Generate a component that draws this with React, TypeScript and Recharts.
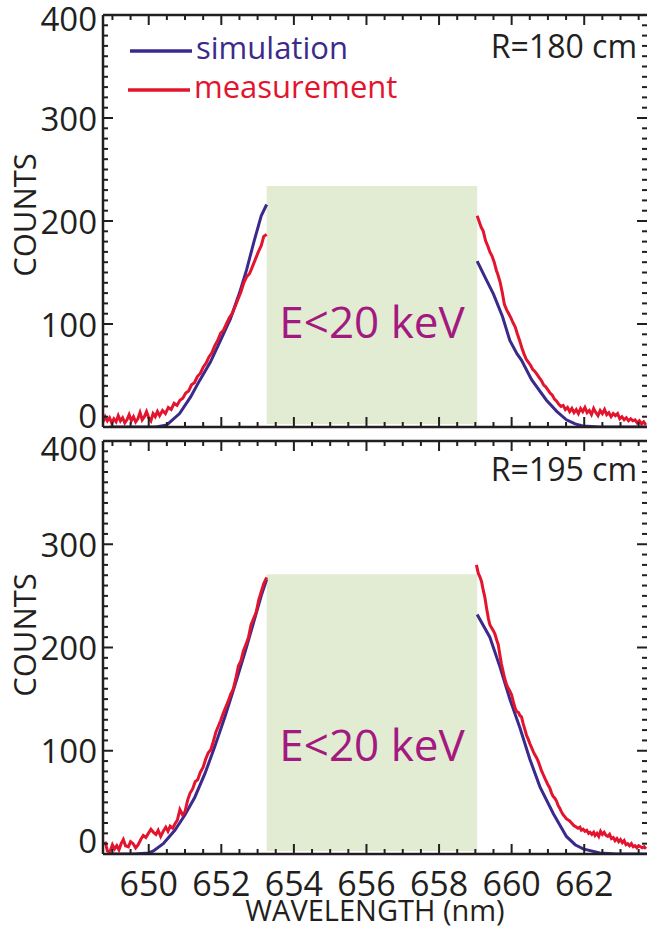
import React from 'react'
import { LineChart, Line, XAxis, YAxis, ReferenceArea } from 'recharts'

const INK = '#231f20'
const SIM = '#3b2a8c'
const MEAS = '#e3152e'
const BAND = '#e1ecd3'
const BAND_TEXT = '#a3197f'
const FONT = '"Open Sans", "Noto Sans", sans-serif'

const X_DOMAIN: [number, number] = [648.74, 663.73]
const Y_DOMAIN: [number, number] = [0, 400]

// [wavelength nm, counts]. The green band hides the line cores,
// so each curve is kept as a left and a right wing.
const topSimLeft = [
  [648.92, 0], [649.5, 0], [650.2, 0], [650.5, 2], [650.85, 13], [651.15, 29], [651.4, 45],
  [651.7, 63], [651.95, 82], [652.25, 105], [652.5, 130], [652.7, 153], [652.9, 180],
  [653.1, 205], [653.25, 216],
]
const topSimRight = [
  [659.05, 161], [659.3, 143], [659.5, 129], [659.75, 107], [659.95, 84], [660.15, 71],
  [660.27, 65], [660.55, 46], [660.96, 26], [661.25, 15], [661.51, 7], [661.75, 3],
  [661.96, 1], [662.43, 0], [663.73, 0],
]
const topMeasLeft = [
  [648.74, 5], [648.8, 10], [648.86, 6], [648.92, 9], [648.98, 4], [649.04, 8], [649.1, 5],
  [649.16, 11], [649.22, 6], [649.28, 9], [649.34, 4], [649.4, 7], [649.46, 12], [649.52, 6],
  [649.58, 10], [649.64, 5], [649.7, 8], [649.76, 14], [649.82, 7], [649.88, 10], [649.94, 15],
  [650.0, 9], [650.06, 6], [650.12, 13], [650.18, 10], [650.24, 15], [650.3, 11], [650.38, 16],
  [650.46, 13], [650.54, 19], [650.62, 17], [650.7, 23], [650.78, 21], [650.86, 26],
  [650.94, 28], [651.02, 33], [651.1, 35], [651.18, 41], [651.26, 43], [651.34, 49],
  [651.42, 52], [651.5, 58], [651.58, 62], [651.66, 68], [651.74, 72], [651.82, 79],
  [651.9, 84], [651.98, 91], [652.06, 94], [652.14, 100], [652.22, 106], [652.3, 110],
  [652.38, 117], [652.46, 124], [652.54, 131], [652.62, 140], [652.7, 146], [652.78, 149],
  [652.86, 156], [652.94, 163], [653.02, 170], [653.1, 176], [653.17, 185], [653.25, 187],
]
const topMeasRight = [
  [659.05, 205], [659.1, 200], [659.16, 194], [659.22, 190], [659.28, 181], [659.34, 176],
  [659.4, 170], [659.46, 166], [659.52, 160], [659.58, 152], [659.62, 148], [659.68, 141],
  [659.74, 131], [659.8, 119], [659.86, 114], [659.92, 110], [659.98, 106], [660.04, 101],
  [660.1, 97], [660.16, 90], [660.22, 84], [660.28, 77], [660.34, 71], [660.4, 66],
  [660.46, 63], [660.52, 60], [660.58, 56], [660.64, 54], [660.7, 51], [660.76, 48],
  [660.82, 45], [660.88, 41], [660.94, 39], [661.0, 36], [661.06, 33], [661.12, 31],
  [661.18, 27], [661.24, 25], [661.3, 22], [661.36, 20], [661.42, 21], [661.48, 17],
  [661.54, 19], [661.6, 15], [661.66, 18], [661.72, 14], [661.78, 17], [661.84, 13],
  [661.9, 18], [661.96, 15], [662.02, 19], [662.08, 14], [662.14, 16], [662.2, 12],
  [662.26, 18], [662.32, 14], [662.38, 11], [662.44, 16], [662.5, 13], [662.56, 17],
  [662.62, 12], [662.68, 14], [662.74, 10], [662.8, 13], [662.86, 11], [662.92, 13],
  [662.98, 8], [663.04, 10], [663.1, 7], [663.16, 9], [663.22, 6], [663.28, 8], [663.34, 6],
  [663.4, 7], [663.46, 4], [663.52, 6], [663.58, 3], [663.64, 5], [663.7, 2],
]

const botSimLeft = [
  [648.85, 0], [649.6, 0], [650.0, 1], [650.13, 3], [650.4, 10], [650.72, 23], [651.0, 38],
  [651.27, 55], [651.55, 78], [651.82, 104], [652.1, 133], [652.37, 163], [652.65, 195],
  [652.92, 228], [653.1, 250], [653.25, 266],
]
const botSimRight = [
  [659.05, 232], [659.4, 210], [659.68, 181], [659.95, 150], [660.23, 122], [660.5, 92],
  [660.78, 65], [661.15, 39], [661.51, 17], [661.75, 9], [661.97, 5], [662.43, 1],
  [662.89, 0], [663.73, 0],
]
const botMeasLeft = [
  [648.8, 12], [648.86, 3], [648.93, 2], [649.0, 9], [649.06, 5], [649.12, 8], [649.18, 4],
  [649.24, 10], [649.3, 14], [649.36, 8], [649.44, 7], [649.5, 12], [649.57, 10], [649.64, 6],
  [649.71, 9], [649.78, 14], [649.85, 18], [649.92, 16], [649.99, 20], [650.06, 24],
  [650.13, 21], [650.2, 19], [650.26, 23], [650.33, 17], [650.4, 22], [650.47, 26],
  [650.53, 22], [650.59, 27], [650.66, 25], [650.72, 29], [650.79, 33], [650.86, 43],
  [650.93, 38], [651.0, 41], [651.07, 52], [651.14, 59], [651.21, 63], [651.28, 70],
  [651.35, 72], [651.42, 79], [651.5, 84], [651.57, 92], [651.64, 98], [651.71, 101],
  [651.78, 109], [651.85, 118], [651.92, 124], [651.98, 129], [652.05, 136], [652.12, 142],
  [652.19, 148], [652.26, 155], [652.33, 160], [652.4, 170], [652.47, 182], [652.54, 187],
  [652.61, 197], [652.68, 203], [652.75, 210], [652.82, 222], [652.89, 228], [652.96, 234],
  [653.03, 246], [653.1, 254], [653.17, 262], [653.25, 268],
]
const botMeasRight = [
  [659.03, 280], [659.08, 272], [659.13, 268], [659.17, 264], [659.22, 255], [659.26, 249],
  [659.31, 238], [659.36, 228], [659.4, 222], [659.45, 219], [659.5, 216], [659.54, 213],
  [659.59, 207], [659.63, 203], [659.68, 192], [659.72, 184], [659.77, 176], [659.81, 170],
  [659.86, 164], [659.9, 161], [659.95, 158], [660.0, 154], [660.05, 147], [660.1, 141],
  [660.14, 138], [660.19, 137], [660.23, 134], [660.27, 133], [660.32, 126], [660.37, 120],
  [660.41, 115], [660.46, 111], [660.5, 107], [660.55, 103], [660.6, 99], [660.64, 96],
  [660.69, 93], [660.73, 90], [660.78, 85], [660.82, 81], [660.87, 77], [660.92, 73],
  [660.96, 70], [661.0, 67], [661.05, 64], [661.1, 59], [661.14, 56], [661.19, 54],
  [661.24, 51], [661.28, 47], [661.33, 44], [661.37, 41], [661.42, 38], [661.47, 36],
  [661.51, 34], [661.56, 33], [661.6, 32], [661.65, 30], [661.7, 28], [661.74, 27],
  [661.79, 26], [661.83, 25], [661.88, 26], [661.92, 23], [661.97, 24], [662.02, 22],
  [662.07, 23], [662.12, 20], [662.16, 21], [662.21, 19], [662.26, 21], [662.3, 18],
  [662.35, 20], [662.4, 17], [662.45, 22], [662.5, 19], [662.55, 21], [662.6, 18],
  [662.65, 17], [662.7, 19], [662.75, 15], [662.8, 16], [662.85, 13], [662.9, 15],
  [662.95, 12], [663.0, 14], [663.05, 11], [663.1, 13], [663.15, 9], [663.2, 10],
  [663.25, 8], [663.3, 10], [663.35, 7], [663.4, 8], [663.45, 6], [663.5, 8], [663.55, 7],
  [663.6, 6], [663.65, 7], [663.7, 5],
]

// low-energy band (E<20 keV) edges in nm, and its top in counts per panel
const bandWave = [653.25, 659.05]
const bandTop = { top: 234, bottom: 271 }

const xLabelTicks = [650, 652, 654, 656, 658, 660, 662]
const yLabelTicks = [0, 100, 200, 300, 400]
const xMinorTicks = Array.from({ length: 30 }, (_, i) => 649 + i * 0.5)
const yMinorTicks = Array.from({ length: 41 }, (_, i) => i * 10)

type Pt = { w: number; v: number | null }

function wings(left: number[][], right: number[][]): Pt[] {
  const gap = (left[left.length - 1][0] + right[0][0]) / 2
  return [
    ...left.map(([w, v]) => ({ w, v })),
    { w: gap, v: null },
    ...right.map(([w, v]) => ({ w, v })),
  ]
}

function XTick(props: any) {
  const { x, y, payload, dir, showLabel } = props
  const v = payload.value
  const major = xLabelTicks.includes(v)
  const len = major ? 10 : 5
  return (
    <g>
      <line x1={x} x2={x} y1={y} y2={y + dir * len} stroke={INK} strokeWidth={2} />
      {showLabel && major && (
        <text x={x} y={y + 42} textAnchor="middle" fontFamily={FONT} fontSize={34} fill={INK}>
          {v}
        </text>
      )}
    </g>
  )
}

function YTick(props: any) {
  const { x, y, payload, dir, showLabel, shift } = props
  const v = payload.value
  const major = yLabelTicks.includes(v)
  const len = major ? 10 : 5
  return (
    <g>
      <line x1={x} x2={x + dir * len} y1={y} y2={y} stroke={INK} strokeWidth={2} />
      {showLabel && major && (
        <text
          x={x - 6}
          y={y + (shift[v] ?? 0)}
          textAnchor="end"
          dominantBaseline="central"
          fontFamily={FONT}
          fontSize={33}
          fill={INK}
        >
          {v}
        </text>
      )}
    </g>
  )
}

interface PanelProps {
  height: number
  margin: { top: number; right: number; bottom: number; left: number }
  sim: Pt[]
  meas: Pt[]
  band: number
  xLabels: boolean
  yShift: Record<number, number>
}

// axes get 1px of room: recharts skips drawing an axis whose box is 0 wide/high
function Panel({ height, margin, sim, meas, band, xLabels, yShift }: PanelProps) {
  const frame = { stroke: INK, strokeWidth: 2.5 }
  return (
    <LineChart width={647} height={height} margin={margin}>
      <XAxis
        xAxisId="b" dataKey="w" type="number" domain={X_DOMAIN} allowDataOverflow
        ticks={xMinorTicks} interval={0} height={1} tickSize={0} tickMargin={0}
        tickLine={false} axisLine={frame}
        tick={(p: any) => <XTick {...p} dir={-1} showLabel={xLabels} />}
      />
      <XAxis
        xAxisId="t" orientation="top" dataKey="w" type="number" domain={X_DOMAIN} allowDataOverflow
        ticks={xMinorTicks} interval={0} height={1} tickSize={0} tickMargin={0}
        tickLine={false} axisLine={frame}
        tick={(p: any) => <XTick {...p} dir={1} showLabel={false} />}
      />
      <YAxis
        yAxisId="l" type="number" domain={Y_DOMAIN} allowDataOverflow
        ticks={yMinorTicks} interval={0} width={1} tickSize={0} tickMargin={0}
        tickLine={false} axisLine={frame}
        tick={(p: any) => <YTick {...p} dir={1} showLabel shift={yShift} />}
      />
      <YAxis
        yAxisId="r" orientation="right" type="number" domain={Y_DOMAIN} allowDataOverflow
        ticks={yMinorTicks} interval={0} width={1} tickSize={0} tickMargin={0}
        tickLine={false} axisLine={false}
        tick={(p: any) => <YTick {...p} dir={-1} showLabel={false} shift={yShift} />}
      />
      <Line
        xAxisId="b" yAxisId="l" data={sim} dataKey="v" type="linear" stroke={SIM}
        strokeWidth={3} dot={false} activeDot={false} isAnimationActive={false}
      />
      <Line
        xAxisId="b" yAxisId="l" data={meas} dataKey="v" type="linear" stroke={MEAS}
        strokeWidth={3} dot={false} activeDot={false} isAnimationActive={false}
      />
      <ReferenceArea
        xAxisId="b" yAxisId="l" x1={bandWave[0]} x2={bandWave[1]} y1={3} y2={band}
        fill={BAND} fillOpacity={1} stroke="none"
      />
    </LineChart>
  )
}

export default function App() {
  const txt = { fontFamily: FONT, fill: INK }
  return (
    <div style={{ position: 'absolute', left: 0, top: 0, width: 647, height: 928, background: '#fff' }}>
      <div style={{ position: 'absolute', left: 0, top: 0 }}>
        <Panel
          height={440}
          margin={{ top: 14, right: -1, bottom: 12, left: 102 }}
          sim={wings(topSimLeft, topSimRight)}
          meas={wings(topMeasLeft, topMeasRight)}
          band={bandTop.top}
          xLabels={false}
          yShift={{ 0: -12, 400: 3 }}
        />
      </div>
      <div style={{ position: 'absolute', left: 0, top: 400 }}>
        <Panel
          height={528}
          margin={{ top: 40, right: -1, bottom: 73, left: 102 }}
          sim={wings(botSimLeft, botSimRight)}
          meas={wings(botMeasLeft, botMeasRight)}
          band={bandTop.bottom}
          xLabels
          yShift={{ 0: -14, 400: 7 }}
        />
      </div>
      <svg width={647} height={928} style={{ position: 'absolute', left: 0, top: 0, pointerEvents: 'none' }}>
        <text {...txt} fontSize={31} textAnchor="middle" dominantBaseline="central" transform="translate(24,215) rotate(-90)">
          COUNTS
        </text>
        <text {...txt} fontSize={31} textAnchor="middle" dominantBaseline="central" transform="translate(24,635) rotate(-90)">
          COUNTS
        </text>
        <text {...txt} fontSize={29} textAnchor="middle" x={375} y={921}>WAVELENGTH (nm)</text>

        <line x1={130} x2={192} y1={51} y2={51} stroke={SIM} strokeWidth={3.5} />
        <text fontFamily={FONT} fill={SIM} fontSize={31} x={196} y={59}>simulation</text>
        <line x1={128} x2={190} y1={90} y2={90} stroke={MEAS} strokeWidth={3.5} />
        <text fontFamily={FONT} fill={MEAS} fontSize={31} x={194} y={98}>measurement</text>

        <text {...txt} fontSize={32} textAnchor="end" x={637} y={58}>R=180 cm</text>
        <text {...txt} fontSize={32} textAnchor="end" x={637} y={481}>R=195 cm</text>

        <text fontFamily={FONT} fill={BAND_TEXT} fontSize={44} textAnchor="middle" x={372} y={338}>E&lt;20 keV</text>
        <text fontFamily={FONT} fill={BAND_TEXT} fontSize={44} textAnchor="middle" x={372} y={761}>E&lt;20 keV</text>
      </svg>
    </div>
  )
}
